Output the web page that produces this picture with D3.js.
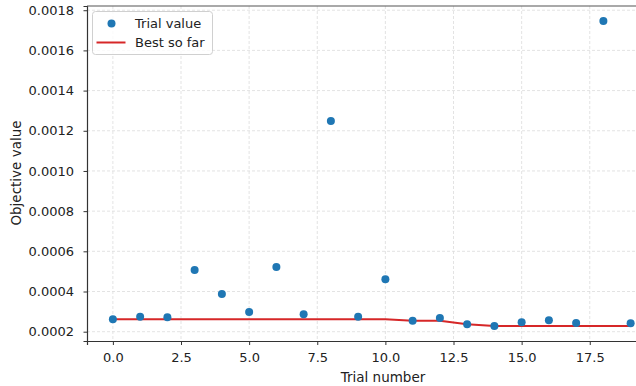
<!DOCTYPE html>
<html>
<head>
<meta charset="utf-8">
<script src="https://cdn.jsdelivr.net/npm/d3@7"></script>
<style>
  body { margin: 0; background: #fff; }
  svg { display: block; font-family: 'DejaVu Sans', sans-serif; }
  .grid line { stroke: #dcdcdc; stroke-dasharray: 3,2; stroke-width: 0.8; }
  .axis path, .axis line { stroke: #333; }
</style>
</head>
<body>
<svg id="chart"></svg>
<script>
// trial numbers and objective values
var trials = [0, 1, 2, 3, 4, 5, 6, 7, 8, 9, 10, 11, 12, 13, 14, 15, 16, 17, 18, 19]
var trialValues = [0.000262, 0.000275, 0.000272, 0.000507, 0.000388, 0.000298, 0.000522, 0.000287,
  0.001249, 0.000275, 0.000461, 0.000255, 0.000268, 0.000237, 0.000228, 0.000247, 0.000257,
  0.000243, 0.001746, 0.000242]
var bestSoFar = [0.000262, 0.000262, 0.000262, 0.000262, 0.000262, 0.000262, 0.000262, 0.000262,
  0.000262, 0.000262, 0.000262, 0.000255, 0.000255, 0.000237, 0.000228, 0.000228, 0.000228,
  0.000228, 0.000228, 0.000228]
var xTicks = [0, 2.5, 5, 7.5, 10, 12.5, 15, 17.5]
var yTicks = [0.0002, 0.0004, 0.0006, 0.0008, 0.0010, 0.0012, 0.0014, 0.0016, 0.0018]

// the figure is cropped on the right, so the plot area runs past the edge
var W = 636
var H = 386
var margin = {top: 6, left: 87, bottom: 45}
var height = H - margin.top - margin.bottom
var width = 700

var x = d3.scaleLinear()
          .domain([-0.95, 19.95])
          .range([0, 27.25 * 20.9])

var y = d3.scaleLinear()
          .domain([0.0001537, 0.001821])
          .range([height, 0])

var svg = d3.select('#chart')
    .attr('width', W)
    .attr('height', H)
  .append('g')
    .attr('transform', 'translate(' + margin.left + ',' + margin.top + ')')

// gridlines
svg.append('g')
    .attr('class', 'grid')
  .selectAll('line')
    .data(xTicks)
  .enter().append('line')
    .attr('x1', function (d) { return x(d) })
    .attr('x2', function (d) { return x(d) })
    .attr('y1', 0)
    .attr('y2', height)

svg.append('g')
    .attr('class', 'grid')
  .selectAll('line')
    .data(yTicks)
  .enter().append('line')
    .attr('x1', 0)
    .attr('x2', width)
    .attr('y1', function (d) { return y(d) })
    .attr('y2', function (d) { return y(d) })

// best so far line
var line = d3.line()
    .x(function (d, i) { return x(trials[i]) })
    .y(function (d) { return y(d) })

svg.append('path')
    .datum(bestSoFar)
    .attr('fill', 'none')
    .attr('stroke', '#d62728')
    .attr('stroke-width', 2)
    .attr('d', line)

// trial points
svg.selectAll('.dot')
    .data(trialValues)
  .enter().append('circle')
    .attr('class', 'dot')
    .attr('cx', function (d, i) { return x(trials[i]) })
    .attr('cy', function (d) { return y(d) })
    .attr('r', 4)
    .attr('fill', '#1f77b4')

// axes
var xAxis = svg.append('g')
    .attr('class', 'axis')
    .attr('transform', 'translate(0,' + height + ')')
    .call(d3.axisBottom(x).tickValues(xTicks).tickFormat(d3.format('.1f')).tickSizeOuter(0).tickSize(4).tickPadding(8))
xAxis.select('.domain').attr('stroke-width', 1.2)

var yAxis = svg.append('g')
    .attr('class', 'axis')
    .call(d3.axisLeft(y).tickValues(yTicks).tickFormat(d3.format('.4f')).tickSizeOuter(0).tickSize(3.5).tickPadding(9.5))
yAxis.select('.domain').attr('stroke-width', 1.2)

svg.selectAll('.axis')
    .attr('font-family', "'DejaVu Sans', sans-serif")
    .attr('font-size', 13)
svg.selectAll('.axis text')
    .attr('fill', '#222')

// top spine
svg.append('line')
    .attr('x1', 0)
    .attr('x2', width)
    .attr('y1', 0)
    .attr('y2', 0)
    .attr('stroke', '#555')
    .attr('stroke-width', 1.2)

// axis titles
svg.append('text')
    .attr('x', 383 - margin.left)
    .attr('y', height + 41)
    .attr('text-anchor', 'middle')
    .attr('font-size', '13.5px')
    .attr('fill', '#222')
    .text('Trial number')

svg.append('text')
    .attr('transform', 'translate(' + (21 - margin.left) + ',' + (173 - margin.top) + ') rotate(-90)')
    .attr('text-anchor', 'middle')
    .attr('font-size', '13.5px')
    .attr('fill', '#222')
    .text('Objective value')

// legend
var legend = svg.append('g')
    .attr('transform', 'translate(' + (92.5 - margin.left) + ',' + (11.5 - margin.top) + ')')

legend.append('rect')
    .attr('width', 120)
    .attr('height', 43)
    .attr('rx', 3)
    .attr('fill', 'rgba(255,255,255,0.8)')
    .attr('stroke', '#d0d0d0')

legend.append('circle')
    .attr('cx', 19)
    .attr('cy', 12)
    .attr('r', 4)
    .attr('fill', '#1f77b4')

legend.append('line')
    .attr('x1', 4)
    .attr('x2', 33)
    .attr('y1', 31)
    .attr('y2', 31)
    .attr('stroke', '#d62728')
    .attr('stroke-width', 2)

legend.selectAll('.legend-label')
    .data(['Trial value', 'Best so far'])
  .enter().append('text')
    .attr('x', 42.5)
    .attr('y', function (d, i) { return 16.5 + i * 19 })
    .attr('font-size', '13px')
    .attr('fill', '#222')
    .text(function (d) { return d })
</script>
</body>
</html>
